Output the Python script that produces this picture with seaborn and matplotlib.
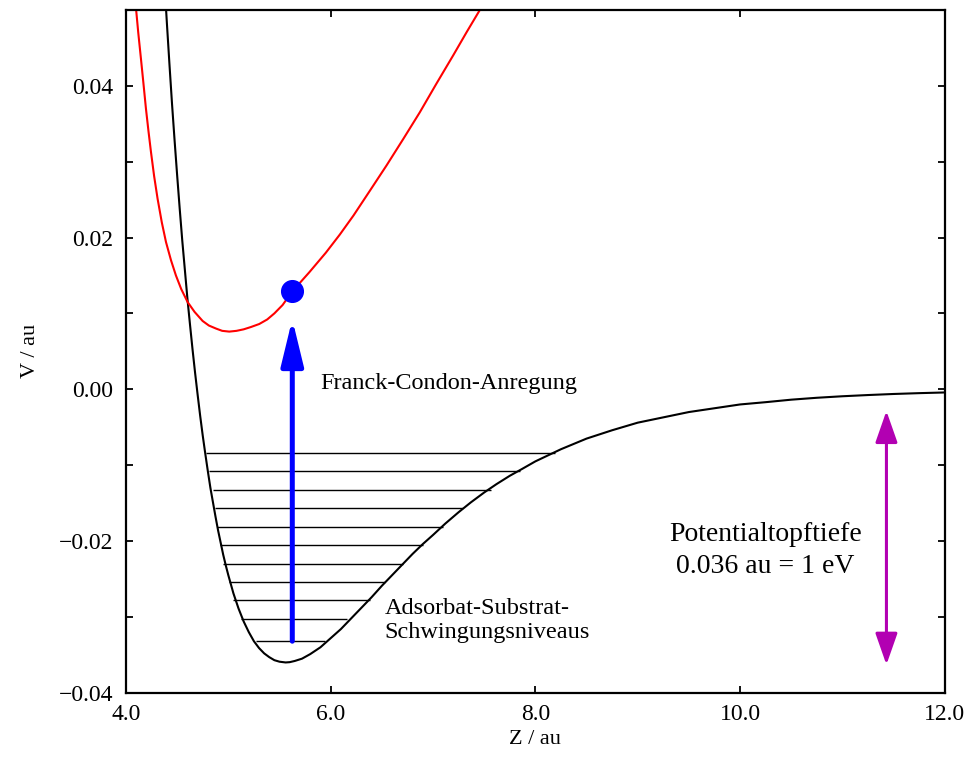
import numpy as np
import matplotlib
matplotlib.use("Agg")
import matplotlib.pyplot as plt
from matplotlib.ticker import FixedLocator, FuncFormatter
import seaborn as sns

# ground state potential (adsorbate - substrate)
black_z = [4.38, 4.40, 4.425, 4.45, 4.475, 4.50, 4.525, 4.55, 4.575, 4.60, 4.625,
           4.65, 4.675, 4.70, 4.725, 4.75, 4.775, 4.80, 4.825, 4.85, 4.875, 4.90,
           4.925, 4.95, 4.975, 5.00, 5.05, 5.10, 5.15, 5.20, 5.25, 5.30, 5.35, 5.40,
           5.45, 5.50, 5.56, 5.60, 5.65, 5.72, 5.80, 5.90, 6.00, 6.10, 6.20, 6.30,
           6.40, 6.50, 6.60, 6.70, 6.80, 6.90, 7.00, 7.12, 7.25, 7.37, 7.50, 7.62,
           7.75, 7.87, 8.00, 8.25, 8.50, 8.75, 9.00, 9.25, 9.50, 9.75, 10.0, 10.25,
           10.5, 10.75, 11.0, 11.25, 11.5, 11.75, 12.0]
black_v = [0.0527, 0.0482, 0.0428, 0.0376, 0.0328, 0.0282, 0.0238, 0.0196, 0.0158,
           0.0120, 0.0086, 0.0053, 0.0022, -0.0007, -0.0035, -0.0061, -0.0085,
           -0.0108, -0.0130, -0.0149, -0.0168, -0.0186, -0.0202, -0.0218, -0.0232,
           -0.0245, -0.0269, -0.0289, -0.0306, -0.0320, -0.0332, -0.0341, -0.0348,
           -0.0353, -0.0357, -0.0359, -0.0360, -0.03596, -0.0358, -0.0355, -0.0349,
           -0.0340, -0.0328, -0.0316, -0.0302, -0.0288, -0.0274, -0.0259, -0.0245,
           -0.0231, -0.0217, -0.0204, -0.0192, -0.0177, -0.0162, -0.0149, -0.0136,
           -0.0125, -0.0114, -0.0105, -0.0095, -0.0079, -0.0065, -0.0054, -0.0044,
           -0.0037, -0.0030, -0.0025, -0.0020, -0.0017, -0.00137, -0.00112,
           -0.00092, -0.00076, -0.00062, -0.00051, -0.00042]

# excited state potential
red_z = [4.098, 4.12, 4.146, 4.17, 4.195, 4.22, 4.244, 4.275, 4.309, 4.35, 4.391,
         4.44, 4.488, 4.54, 4.602, 4.67, 4.749, 4.81, 4.88, 4.94, 5.009, 5.08, 5.15,
         5.22, 5.302, 5.38, 5.45, 5.53, 5.625, 5.79, 5.953, 6.09, 6.223, 6.38, 6.546,
         6.71, 6.871, 7.03, 7.197, 7.33, 7.467]
red_v = [0.0502, 0.0470, 0.0436, 0.0404, 0.0370, 0.0340, 0.0313, 0.0281, 0.0251,
         0.0220, 0.0194, 0.0170, 0.0150, 0.0132, 0.0115, 0.0102, 0.0090, 0.0084,
         0.0080, 0.0077, 0.0076, 0.0077, 0.0079, 0.0082, 0.0086, 0.0092, 0.0100,
         0.0111, 0.0129, 0.0154, 0.0180, 0.0204, 0.0229, 0.0261, 0.0295, 0.0330,
         0.0365, 0.0402, 0.0440, 0.0471, 0.0502]

# vibrational levels
level_v = [-0.00836, -0.01078, -0.01324, -0.01571, -0.01813, -0.02055, -0.02297,
           -0.02539, -0.02781, -0.03023, -0.03323]
level_left = [4.781, 4.813, 4.847, 4.869, 4.892, 4.918, 4.950, 5.009, 5.048, 5.120, 5.270]
level_right = [8.189, 7.848, 7.571, 7.294, 7.099, 6.903, 6.702, 6.529, 6.383, 6.161, 5.943]

# Franck-Condon excitation
fc_z = 5.625
fc_from = -0.0332
fc_to = 0.00924
dot_v = 0.0129

# well depth arrow
depth_z = 11.43
depth_top = -0.00286
depth_bottom = -0.0363

sns.set_theme(style="ticks")
plt.rcParams['font.family'] = ['Liberation Serif', 'DejaVu Serif']
plt.rcParams['text.color'] = 'black'
plt.rcParams['axes.labelcolor'] = 'black'
plt.rcParams['xtick.color'] = 'black'
plt.rcParams['ytick.color'] = 'black'

fig, ax = plt.subplots(figsize=(9.69, 7.58), dpi=100)
fig.subplots_adjust(left=0.130, right=0.975, top=0.987, bottom=0.086)

ax.hlines(level_v, level_left, level_right, color='black', lw=1.0)
sns.lineplot(x=black_z, y=black_v, color='black', lw=1.5, ax=ax, estimator=None, sort=False)
sns.lineplot(x=red_z, y=red_v, color='red', lw=1.5, ax=ax, estimator=None, sort=False)

ax.annotate('', xy=(fc_z, fc_to), xytext=(fc_z, fc_from),
            arrowprops=dict(arrowstyle='-|>,head_length=1.4,head_width=0.34',
                            mutation_scale=20, color='#0000ff', lw=3.6,
                            shrinkA=0, shrinkB=0))
ax.plot([fc_z], [dot_v], 'o', color='#0000ff', markersize=15.6, zorder=5)

ax.annotate('', xy=(depth_z, depth_top), xytext=(depth_z, depth_bottom),
            arrowprops=dict(arrowstyle='<|-|>,head_length=0.97,head_width=0.34',
                            mutation_scale=20, color='#b200b2', lw=2.2,
                            shrinkA=0, shrinkB=0))

ax.text(5.901, 0.0, 'Franck-Condon-Anregung', fontsize=17.5, va='baseline', ha='left')
ax.text(6.529, -0.02961, 'Adsorbat-Substrat-', fontsize=17.5, va='baseline', ha='left')
ax.text(6.529, -0.03278, 'Schwingungsniveaus', fontsize=17.5, va='baseline', ha='left')
ax.text(10.25, -0.02003, 'Potentialtopftiefe', fontsize=20, va='baseline', ha='center')
ax.text(10.25, -0.0242, '0.036 au = 1 eV', fontsize=20, va='baseline', ha='center')

ax.set_xlim(4, 12)
ax.set_ylim(-0.04, 0.05)
ax.set_xticks([4, 6, 8, 10, 12])
ax.xaxis.set_major_formatter(FuncFormatter(lambda v, p: f"{v:.1f}"))
ax.set_yticks([-0.04, -0.02, 0.0, 0.02, 0.04])
ax.yaxis.set_major_formatter(
    FuncFormatter(lambda v, p: f"{round(v, 4):.2f}".replace('-', '\u2212')))
ax.yaxis.set_minor_locator(FixedLocator([-0.03, -0.01, 0.01, 0.03]))

ax.tick_params(which='both', direction='in', top=True, right=True,
               length=5, width=1.3, labelsize=17, color='black', labelcolor='black')
ax.tick_params(axis='y', pad=9)
ax.tick_params(axis='x', pad=8)
for s in ax.spines.values():
    s.set_linewidth(1.6)
    s.set_color('black')

ax.set_xlabel('Z / au', fontsize=16, labelpad=4)
ax.set_ylabel('V / au', fontsize=16, labelpad=14)

fig.savefig('out.png', dpi=100)
